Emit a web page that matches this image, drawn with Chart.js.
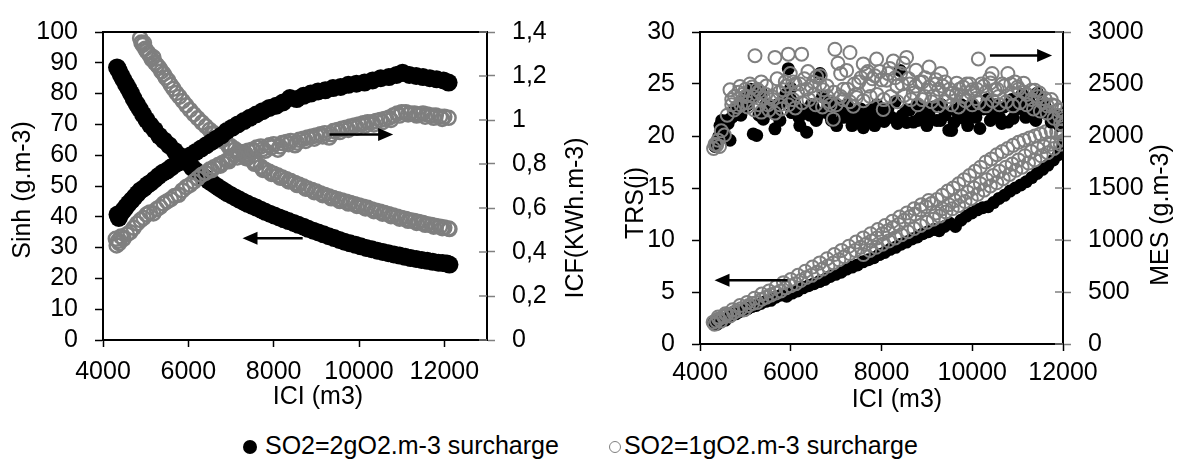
<!DOCTYPE html>
<html>
<head>
<meta charset="utf-8">
<script src="https://cdn.jsdelivr.net/npm/chart.js@4.4.1/dist/chart.umd.min.js"></script>
<style>
  body { margin: 0; background: #fff; width: 1177px; height: 464px; overflow: hidden; position: relative; }
  canvas { position: absolute; top: 0; }
  #leftChart { left: 0; }
  #rightChart { left: 600px; }
  #legend {
    position: absolute; left: 243px; top: 430px;
    font: 25px "Liberation Sans", Arial, sans-serif; line-height: 30px;
    color: #000; white-space: nowrap;
  }
  .mk { display: inline-block; border-radius: 50%; vertical-align: middle; box-sizing: border-box; }
  .dot { width: 14px; height: 14px; background: #000; margin-right: 8px; }
  .ring { width: 12px; height: 12px; border: 1.5px solid #808080; margin-left: 50px; margin-right: 3px; }
</style>
</head>
<body>
<canvas id="leftChart" width="600" height="420"></canvas>
<canvas id="rightChart" width="577" height="420"></canvas>
<div id="legend"><span class="mk dot"></span><span>SO2=2gO2.m-3 surcharge</span><span class="mk ring"></span><span>SO2=1gO2.m-3 surcharge</span></div>
<script>
// tick values
const iciTicksLeft = [4000, 6000, 8000, 10000, 12000];
const sinhTicks = [0, 10, 20, 30, 40, 50, 60, 70, 80, 90, 100];
const icfTicks = [0, 0.2, 0.4, 0.6, 0.8, 1, 1.2, 1.4];
const iciTicksRight = [4000, 6000, 8000, 10000, 12000];
const trsTicks = [0, 5, 10, 15, 20, 25, 30];
const mesTicks = [0, 500, 1000, 1500, 2000, 2500, 3000];

// ---- left panel: Sinh (left axis) and ICF (right axis) vs ICI ----
const sinh2 = [[4330,88.5],[4370,87.5],[4420,86],[4480,84.5],[4540,83],[4600,81.5],[4660,80],[4720,78.3],[4790,76.6],[4860,75],
  [4940,73.2],[5020,71.5],[5110,69.8],[5210,68.2],[5320,66.3],[5430,64.8],[5550,63.2],[5680,61.4],[5810,59.7],[5950,57.8],
  [6090,56],[6165,55.1],[6240,54.3],[6320,53.4],[6400,52.6],[6480,51.7],[6560,50.9],[6645,50.1],[6730,49.3],[6820,48.5],
  [6910,47.7],[7005,47],[7100,46.3],[7195,45.6],[7290,44.9],[7390,44.2],[7490,43.6],[7595,43],[7700,42.3],[7805,41.6],
  [7910,41],[8020,40.4],[8130,39.8],[8240,39.2],[8350,38.6],[8470,38],[8580,37.4],[8700,36.8],[8810,36.1],[8930,35.5],
  [9050,34.9],[9170,34.3],[9290,33.7],[9420,33.1],[9540,32.5],[9660,31.9],[9790,31.4],[9920,30.9],[10040,30.4],[10170,29.9],
  [10300,29.5],[10430,29],[10560,28.6],[10690,28.2],[10820,27.8],[10950,27.4],[11080,27],[11210,26.6],[11340,26.3],[11470,26],
  [11600,25.7],[11730,25.4],[11860,25.1],[11960,25],[12060,24.8],[12120,24.5]];

const icf2 = [[4340,0.57],[4370,0.555],[4420,0.575],[4480,0.59],[4540,0.605],[4600,0.62],[4670,0.635],[4740,0.65],[4810,0.665],[4880,0.68],
  [4960,0.69],[5040,0.705],[5120,0.715],[5210,0.73],[5300,0.745],[5400,0.76],[5500,0.77],[5600,0.785],[5710,0.8],[5820,0.81],
  [5940,0.825],[6060,0.84],[6180,0.855],[6300,0.87],[6420,0.885],[6540,0.9],[6660,0.915],[6780,0.93],[6900,0.95],[7030,0.965],
  [7160,0.98],[7300,0.995],[7440,1.01],[7590,1.025],[7740,1.04],[7900,1.055],[8060,1.065],[8220,1.08],[8380,1.1],[8540,1.095],
  [8700,1.11],[8870,1.12],[9040,1.13],[9210,1.135],[9390,1.145],[9570,1.15],[9750,1.16],[9940,1.165],[10130,1.17],[10320,1.18],
  [10510,1.19],[10700,1.195],[10880,1.205],[11020,1.215],[11180,1.205],[11340,1.2],[11500,1.195],[11660,1.19],[11820,1.185],[11980,1.18],[12100,1.17]];

const sinh1 = [[4870,98],[4900,96.6],[4930,95.8],[4960,96.4],[4990,94.6],[5020,93.8],[5060,93.2],[5100,92.4],[5140,91.2],[5180,91.8],
  [5220,90],[5270,89.2],[5320,88.4],[5370,87.2],[5420,86.4],[5470,85.2],[5530,84.2],[5590,82.8],[5650,81.6],[5720,80.2],
  [5790,79],[5870,77.6],[5950,76.2],[6040,74.7],[6130,73.3],[6220,72],[6320,70.6],[6410,69.4],[6500,68.2],[6600,67.1],
  [6700,66],[6800,64.9],[6900,63.8],[7000,62.9],[7100,61.9],[7200,61],[7300,60.1],[7400,59.2],[7500,58.2],[7600,57.3],
  [7700,56.3],[7800,55.3],[7900,54.6],[8000,54],[8100,53.4],[8200,52.8],[8300,52.2],[8400,51.6],[8500,51],[8600,50.4],
  [8700,49.8],[8800,49.2],[8900,48.7],[9000,48.2],[9100,47.6],[9200,47.1],[9300,46.6],[9400,46.1],[9500,45.7],[9600,45.3],
  [9700,44.9],[9800,44.5],[9900,44.1],[10000,43.7],[10100,43.3],[10200,42.9],[10300,42.4],[10400,42],[10500,41.6],[10600,41.2],
  [10700,40.8],[10800,40.4],[10900,40],[11000,39.6],[11100,39.3],[11200,38.9],[11300,38.6],[11400,38.3],[11500,38],[11600,37.6],
  [11700,37.3],[11800,37],[11900,36.8],[12000,36.5],[12100,36.2],[12120,36],
  [6550,67],[6750,64.8],[6950,62.7],[7150,60.8],[7350,59],[7550,57.2],[7750,55.2],[7950,53.9],[8150,52.7],[8350,51.5],
  [8550,50.3],[8750,49.1],[8950,48],[9150,47],[9350,46],[9550,45.1],[9750,44.3],[9950,43.5],[10150,42.7],[10350,41.8],
  [10550,41],[10750,40.2],[10950,39.4],[11150,38.7],[11350,38],[11550,37.4],[11750,36.8],[11950,36.3]];

const icf1 = [[4300,0.46],[4320,0.43],[4350,0.45],[4380,0.44],[4420,0.47],[4480,0.46],[4560,0.48],[4640,0.49],[4720,0.51],[4800,0.53],
  [4880,0.545],[4950,0.555],[5020,0.57],[5100,0.58],[5180,0.575],[5260,0.595],[5340,0.605],[5420,0.62],[5500,0.63],[5590,0.64],
  [5680,0.655],[5770,0.66],[5860,0.68],[5950,0.695],[6040,0.705],[6130,0.72],[6220,0.735],[6310,0.75],[6400,0.76],[6500,0.775],
  [6600,0.785],[6700,0.795],[6800,0.805],[6900,0.815],[7000,0.83],[7100,0.84],[7200,0.845],[7300,0.855],[7400,0.86],[7500,0.865],
  [7600,0.875],[7700,0.88],[7800,0.86],[7900,0.885],[8000,0.89],[8100,0.865],[8200,0.895],[8300,0.9],[8400,0.905],[8500,0.885],
  [8600,0.91],[8700,0.915],[8800,0.92],[8900,0.925],[9000,0.93],[9100,0.935],[9200,0.94],[9300,0.92],[9400,0.95],[9500,0.955],
  [9600,0.96],[9700,0.965],[9800,0.97],[9900,0.975],[10000,0.98],[10100,0.985],[10200,0.99],[10300,0.99],[10400,0.995],[10500,1],
  [10600,1.005],[10700,1.01],[10800,1.02],[10900,1.03],[11000,1.035],[11100,1.035],[11200,1.03],[11300,1.03],[11400,1.025],[11500,1.03],
  [11600,1.025],[11700,1.02],[11800,1.02],[11900,1.015],[12000,1.015],[12100,1.01],
  [6550,0.772],[6750,0.792],[6950,0.812],[7150,0.83],[7350,0.846],[7550,0.858],[7750,0.868],[7950,0.875],[8150,0.88],[8350,0.89],
  [8550,0.897],[8750,0.905],[8950,0.915],[9150,0.925],[9350,0.935],[9550,0.945],[9750,0.955],[9950,0.965],[10150,0.975],[10350,0.98],
  [10550,0.99],[10750,1],[10950,1.02],[11150,1.025],[11350,1.02],[11550,1.015],[11750,1.01],[11950,1.005]];

// ---- right panel: TRS (left axis) and MES (right axis) vs ICI ----
const trs2 = [[4300,2],[4340,2.3],[4380,1.9],[4430,2.2],[4490,2.4],[4560,2.3],[4630,2.6],[4710,2.8],[4790,2.9],[4870,3.1],
  [4960,3.2],[5050,3.4],[5140,3.6],[5240,3.7],[5340,3.9],[5450,4.1],[5560,4.2],[5670,4.5],[5790,4.7],[5910,4.6],
  [6030,4.9],[6150,5.1],[6270,5.4],[6390,5.6],[6510,5.8],[6630,6],[6750,6.2],[6870,6.5],[6990,6.7],[7110,6.9],
  [7230,7.2],[7350,7.4],[7470,7.6],[7590,7.9],[7710,8.1],[7830,8.3],[7950,8.6],[8070,8.8],[8190,9.1],[8310,9.3],
  [8430,9.6],[8550,9.8],[8670,10.1],[8790,10.3],[8910,10.6],[9030,10.8],[9150,11],[9270,10.9],[9390,11.3],[9510,11.6],
  [9630,11.3],[9750,11.9],[9870,12.3],[9990,12.6],[10110,12.9],[10230,13.1],[10350,13.2],[10470,13.6],[10590,14],[10710,14.3],
  [10830,14.7],[10950,15],[11070,15.3],[11190,15.6],[11310,16],[11430,16.4],[11550,16.8],[11670,17.2],[11790,17.7],[11900,18.2],
  [11980,18.6],[12000,19.2]];

const trs1 = [[4290,2.1],[4320,1.9],[4360,2.2],[4410,2.4],[4460,2.2],[4520,2.6],[4590,2.8],[4660,2.7],[4740,3],[4820,3.2],
  [4900,3.4],[4980,3.3],[5070,3.7],[5160,3.9],[5260,4],[5360,4.3],[5460,4.5],[5560,4.7],[5670,4.9],[5780,5.1],
  [5890,5.4],[6000,5.6],[6110,5.8],[6220,6.1],[6340,6.4],[6460,6.6],[6580,6.9],[6700,7.2],[6820,7.5],[6940,7.8],
  [7060,8.1],[7180,8.4],[7300,8.7],[7420,9],[7540,9.3],[7660,9.6],[7780,9.9],[7900,10.2],[8020,10.6],[8140,10.9],
  [8260,11.2],[8380,11.5],[8500,11.9],[8620,12.2],[8740,12.5],[8860,12.9],[8980,13.2],[9100,13.5],[9220,13.9],[9340,14.3],
  [9460,14.7],[9580,15],[9700,15.4],[9820,15.8],[9940,16.2],[10060,16.6],[10180,17],[10300,17.5],[10420,17.8],[10540,18.2],
  [10660,18.5],[10780,18.8],[10900,19.1],[11020,19.4],[11140,19.6],[11260,19.8],[11380,20],[11500,20.2],[11620,20.4],[11740,20.5],
  [11860,20.4],[11960,20.2],[12030,19.6],
  [7600,8.6],[7740,9],[7880,9.3],[8020,9.6],[8160,9.9],[8300,10.2],[8440,10.5],[8580,10.8],[8720,11.1],[8860,11.4],
  [9000,11.7],[9140,12],[9280,12.3],[9420,12.7],[9560,13],[9700,13.3],[9840,13.7],[9980,14],[10120,14.4],[10260,14.8],
  [10400,15.2],[10540,15.5],[10680,15.9],[10820,16.3],[10960,16.7],[11100,17],[11240,17.4],[11380,17.7],[11520,18.1],[11660,18.4],
  [11800,18.8],[11940,19.2],
  [9200,12.6],[9340,13],[9480,13.4],[9620,13.8],[9760,14.2],[9900,14.6],[10040,15],[10180,15.4],[10320,15.8],[10460,16.2],
  [10600,16.6],[10740,17],[10880,17.3],[11020,17.7],[11160,18.1],[11300,18.5],[11440,18.8],[11580,19],[11720,19.2],[11860,19.4],
  [4400,2.6],[4560,2.9],[4720,3.3],[4880,3.7],[5040,4],[5200,4.4],[5360,4.8],[5520,5.1],[5680,5.5],[5840,5.9],
  [6000,6.2],[6160,6.6],[6320,7],[6480,7.4],[6640,7.8],[6800,8.2],[6960,8.6],[7120,9],[7280,9.4],[7440,9.8],
  [7600,10.2],[7760,10.6],[7920,11],[8080,11.4],[8240,11.8],[8400,12.2],[8560,12.6],[8720,13],[8880,13.4],[9040,13.8]];

const mes2 = [[4330,1900],[4380,1950],[4420,2000],[4441,2100],[4480,2150],[4520,2050],[4560,1990],[4620,2120],[4661,1959],[4700,2180],
  [4734,2194],[4800,2250],[4870,2300],[4940,2350],[4990,2280],[5050,2400],[5120,2450],[5174,2020],[5200,2380],[5249,2006],
  [5300,2200],[5350,2420],[5395,2162],[5450,2300],[5520,2240],[5600,2280],[5652,2069],[5700,2200],[5760,2150],[5820,2330],
  [5890,2400],[5946,2647],[6000,2460],[6020,2225],[6100,2300],[6180,2180],[6260,2250],[6350,2037],[6420,2200],[6500,2280],
  [6560,2150],[6645,2600],[6700,2380],[6780,2250],[6860,2200],[6940,2320],[7010,2100],[7080,2250],[7160,2180],[7240,2300],
  [7305,2194],[7380,2220],[7460,2150],[7540,2260],[7600,2080],[7672,2131],[7740,2250],[7820,2180],[7900,2300],[7980,2200],
  [8060,2140],[8140,2260],[8220,2180],[8300,2330],[8406,2631],[8460,2200],[8553,2131],[8620,2250],[8703,2134],[8780,2300],
  [8860,2180],[8940,2240],[9050,2196],[9140,2280],[9220,2150],[9320,2300],[9400,2200],[9484,2056],[9545,2053],[9620,2250],
  [9700,2180],[9760,2300],[9831,2165],[9920,2240],[10004,2300],[10080,2180],[10168,2072],[10250,2260],[10330,2350],[10438,2227],
  [10520,2300],[10600,2180],[10700,2280],[10785,2134],[10870,2350],[10950,2250],[11046,2290],[11100,2400],[11180,2180],[11240,2350],
  [11306,2258],[11380,2200],[11436,2414],[11500,2300],[11567,2227],[11650,2250],[11740,2134],[11820,2200],[11914,2103],[11980,2150],
  [4600,2150],[4750,2250],[4900,2200],[5050,2300],[5400,2250],[5700,2300],[6000,2350],[6200,2100],[6450,2300],[6600,2200],
  [6900,2150],[7100,2280],[7350,2100],[7600,2200],[7850,2100],[8100,2200],[8350,2120],[8550,2250],[8800,2150],[9000,2100],
  [9300,2150],[9600,2130],[9900,2100],[10100,2250],[10400,2150],[10650,2120],[10900,2170],[11150,2250],[11400,2150],[11600,2300],[11850,2200]];

const mes1 = [[4300,1880],[4330,1920],[4367,1912],[4400,1960],[4430,1900],[4470,2050],[4538,2009],[4600,2200],[4661,2444],[4700,2300],
  [4760,2380],[4820,2280],[4881,2475],[4940,2400],[5000,2450],[5050,2320],[5100,2500],[5174,2381],[5212,2772],[5260,2450],
  [5300,2300],[5350,2520],[5400,2367],[5460,2480],[5520,2250],[5580,2380],[5652,2756],[5700,2550],[5760,2300],[5835,2444],
  [5880,2520],[5946,2787],[5990,2600],[6050,2350],[6100,2500],[6150,2420],[6240,2787],[6300,2550],[6380,2620],[6450,2480],
  [6520,2400],[6571,2569],[6640,2500],[6717,2444],[6800,2380],[6870,2300],[6937,2162],[6974,2834],[7040,2700],[7100,2600],
  [7160,2450],[7231,2631],[7305,2803],[7378,2287],[7440,2400],[7500,2520],[7598,2693],[7660,2600],[7720,2480],[7800,2550],
  [7892,2740],[7960,2620],[8038,2256],[8113,2537],[8180,2650],[8260,2720],[8340,2480],[8420,2600],[8480,2700],[8553,2756],
  [8620,2500],[8700,2412],[8760,2632],[8840,2520],[8900,2350],[8960,2560],[9050,2663],[9137,2383],[9200,2500],[9260,2450],
  [9310,2601],[9400,2520],[9480,2380],[9571,2414],[9657,2508],[9720,2450],[9800,2380],[9880,2500],[9960,2420],[10004,2445],
  [10080,2360],[10135,2741],[10200,2500],[10300,2420],[10380,2550],[10438,2601],[10500,2445],[10580,2380],[10660,2500],[10785,2601],
  [10872,2414],[10940,2520],[11020,2450],[11133,2508],[11200,2400],[11306,2352],[11380,2440],[11480,2414],[11560,2320],[11653,2290],
  [11740,2350],[11827,2290],[11914,2196],[11960,2250],[12000,2165],[12000,2103],[11980,2050],
  [4700,2350],[4850,2420],[5000,2380],[5150,2470],[5300,2430],[5450,2400],[5600,2350],[5750,2420],[5900,2480],[6050,2520],
  [6200,2500],[6350,2450],[6500,2520],[6650,2580],[6800,2480],[6950,2420],[7100,2380],[7250,2450],[7400,2500],[7550,2560],
  [7700,2620],[7850,2580],[8000,2540],[8150,2600],[8300,2560],[8450,2500],[8600,2550],[8750,2480],[8900,2520],[9050,2470],
  [9200,2540],[9350,2480],[9500,2450],[9650,2400],[9800,2470],[9950,2500],[10100,2450],[10250,2480],[10400,2510],[10550,2450],
  [10700,2480],[10850,2500],[11000,2470],[11150,2420],[11300,2440],[11450,2380],[11600,2360],[11750,2300],[11900,2250],
  [4750,2250],[4900,2300],[5050,2280],[5200,2250],[5350,2230],[5500,2300],[5650,2220],[5800,2260],[5950,2300],[6100,2270],
  [6250,2320],[6400,2350],[6550,2300],[6700,2280],[6850,2330],[7000,2300],[7150,2350],[7300,2330],[7450,2370],[7600,2340],
  [7750,2380],[7900,2400],[8050,2350],[8200,2380],[8350,2330],[8500,2390],[8650,2350],[8800,2300],[8950,2380],[9100,2330],
  [9250,2290],[9400,2330],[9550,2300],[9700,2280],[9850,2340],[10000,2300],[10150,2320],[10300,2290],[10450,2340],[10600,2300],
  [10750,2330],[10900,2290],[11050,2320],[11200,2300],[11350,2260],[11500,2240],[11650,2220],[11800,2170],[11950,2120]];

const FONT = "'Liberation Sans', Arial, sans-serif";
Chart.defaults.font.family = FONT;
Chart.defaults.font.size = 25;
Chart.defaults.color = "#000";

const pts = (arr) => arr.map(([x, y]) => ({ x, y }));

// frame on top, inner ticks of the secondary axis, arrows and axis titles
const decorations = {
  id: "decorations",
  afterDraw(chart, args, o) {
    const { ctx, chartArea: a, scales } = chart;
    ctx.save();
    ctx.strokeStyle = "#000";
    ctx.lineWidth = 2;
    ctx.beginPath();
    ctx.moveTo(a.left, a.top);
    ctx.lineTo(a.right, a.top);
    ctx.stroke();

    ctx.strokeStyle = "#808080";
    ctx.lineWidth = 1.5;
    scales.y2.ticks.forEach((t) => {
      const py = scales.y2.getPixelForValue(t.value);
      ctx.beginPath();
      ctx.moveTo(a.right - 8, py);
      ctx.lineTo(a.right, py);
      ctx.stroke();
    });

    ctx.strokeStyle = "#000";
    ctx.fillStyle = "#000";
    ctx.lineWidth = 2.5;
    o.arrows.forEach(([from, to, val]) => {
      const x0 = scales.x.getPixelForValue(from);
      const x1 = scales.x.getPixelForValue(to);
      const py = scales.y.getPixelForValue(val);
      const dir = Math.sign(x1 - x0);
      ctx.beginPath();
      ctx.moveTo(x0, py);
      ctx.lineTo(x1 - dir * 12, py);
      ctx.stroke();
      ctx.beginPath();
      ctx.moveTo(x1, py);
      ctx.lineTo(x1 - dir * 15, py - 6.5);
      ctx.lineTo(x1 - dir * 15, py + 6.5);
      ctx.closePath();
      ctx.fill();
    });

    ctx.font = "25px " + FONT;
    ctx.textAlign = "center";
    ctx.textBaseline = "middle";
    o.titles.forEach(([text, tx, ty, rot]) => {
      ctx.save();
      ctx.translate(tx, ty);
      ctx.rotate((rot * Math.PI) / 180);
      ctx.fillText(text, 0, 0);
      ctx.restore();
    });
    ctx.restore();
  },
};

function axis(pos, min, max, tickValues, size, pad, fmt) {
  return {
    type: "linear",
    position: pos,
    min, max,
    afterBuildTicks: (s) => { s.ticks = tickValues.map((v) => ({ value: v })); },
    ticks: { autoSkip: false, maxRotation: 0, padding: pad, color: "#000", callback: fmt || ((v) => String(v)) },
    grid: { drawOnChartArea: false, tickLength: pos === "bottom" ? 7 : 8, tickColor: pos === "right" ? "#808080" : "#000", tickWidth: 1.5 },
    border: { color: "#000", width: 2 },
    afterFit: (s) => {
      if (pos === "bottom") s.height = size;
      else s.width = size;
    },
  };
}

function blackSet(label, data, axisId, r, order) {
  return { label, data: pts(data), yAxisID: axisId, order, pointRadius: r, pointBackgroundColor: "#000", pointBorderColor: "#000", pointBorderWidth: 0 };
}
function graySet(label, data, axisId, r, bw, order) {
  return { label, data: pts(data), yAxisID: axisId, order, pointRadius: r, pointBackgroundColor: "rgba(0,0,0,0)", pointBorderColor: "#7f7f7f", pointBorderWidth: bw };
}

const plainPlugins = { legend: { display: false }, tooltip: { enabled: false } };

new Chart(document.getElementById("leftChart"), {
  type: "scatter",
  data: {
    datasets: [
      graySet("SO2=1gO2.m-3 surcharge", icf1, "y2", 7, 2.5, 1),
      blackSet("SO2=2gO2.m-3 surcharge", icf2, "y2", 9, 2),
      graySet("SO2=1gO2.m-3 surcharge", sinh1, "y", 7, 2.5, 3),
      blackSet("SO2=2gO2.m-3 surcharge", sinh2, "y", 9, 4),
    ],
  },
  options: {
    responsive: false,
    animation: false,
    events: [],
    layout: { padding: { top: 22, left: 0, right: 0, bottom: 0 } },
    scales: {
      x: axis("bottom", 4000, 13000, iciTicksLeft, 80, 10),
      y: axis("left", 0, 100, sinhTicks, 103, 17),
      y2: axis("right", 0, 1.4, icfTicks, 113, 17, (v) => String(Math.round(v * 10) / 10).replace(".", ",")),
    },
    plugins: Object.assign({}, plainPlugins, {
      decorations: {
        arrows: [[9310, 10800, 66.7], [8680, 7270, 33.0]],
        titles: [["Sinh (g.m-3)", 23, 190, -90], ["ICF(KWh.m-3)", 576, 218, -90], ["ICI (m3)", 318, 397, 0]],
      },
    }),
  },
  plugins: [decorations],
});

new Chart(document.getElementById("rightChart"), {
  type: "scatter",
  data: {
    datasets: [
      graySet("SO2=1gO2.m-3 surcharge", mes1, "y2", 6.5, 2, 1),
      blackSet("SO2=2gO2.m-3 surcharge", mes2, "y2", 6.5, 2),
      graySet("SO2=1gO2.m-3 surcharge", trs1, "y", 6.5, 2, 3),
      blackSet("SO2=2gO2.m-3 surcharge", trs2, "y", 6.5, 4),
    ],
  },
  options: {
    responsive: false,
    animation: false,
    events: [],
    layout: { padding: { top: 24, left: 0, right: 0, bottom: 0 } },
    scales: {
      x: axis("bottom", 4000, 12000, iciTicksRight, 76, 7),
      y: axis("left", 0, 30, trsTicks, 100, 17),
      y2: axis("right", 0, 3000, mesTicks, 114, 17),
    },
    plugins: Object.assign({}, plainPlugins, {
      decorations: {
        arrows: [[10390, 11760, 27.75], [5930, 4320, 6.14]],
        titles: [["TRS(j)", 36, 203, -90], ["MES (g.m-3)", 561, 215, -90], ["ICI (m3)", 297, 400, 0]],
      },
    }),
  },
  plugins: [decorations],
});
</script>
</body>
</html>
